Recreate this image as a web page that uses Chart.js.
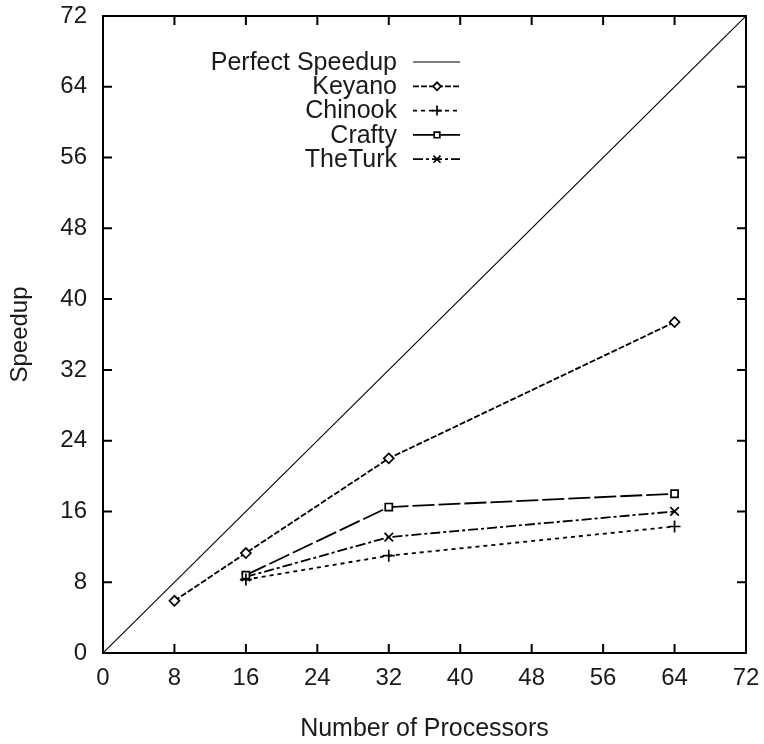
<!DOCTYPE html>
<html>
<head>
<meta charset="utf-8">
<title>Speedup</title>
<script src="https://cdn.jsdelivr.net/npm/chart.js@4.4.1/dist/chart.umd.min.js"></script>
<style>
  html, body { margin: 0; padding: 0; background: #fff; }
  canvas { display: block; }
</style>
</head>
<body>
<canvas id="grafico" width="764" height="744"></canvas>
<script>
var processadores = [8, 16, 32, 64];
var perfeitoX = [0, 72];
var perfeitoY = [0, 72];
var keyano  = [5.9, 11.3, 22.0, 37.4];
var chinook = [null, 8.3, 11.0, 14.3];
var crafty  = [null, 8.8, 16.5, 18.0];
var theTurk = [null, 8.6, 13.1, 16.0];
var ticksEixo = [0, 8, 16, 24, 32, 40, 48, 56, 64, 72];

var fonte = '"Liberation Sans", Arial, sans-serif';
var corTexto = '#1a1a1a';

function pontos(xs, ys) {
    var lista = [];
    for (var i = 0; i < xs.length; i++) {
        if (ys[i] !== null) lista.push({ x: xs[i], y: ys[i] });
    }
    return lista;
}

function serie(nome, dados, estilo, raio, tracejado, fundo) {
    return {
        label: nome,
        data: dados,
        borderColor: '#000',
        backgroundColor: fundo,
        borderWidth: 1.8,
        borderDash: tracejado,
        pointStyle: estilo,
        pointRadius: raio,
        pointBorderWidth: 1.7,
        pointBorderColor: '#000',
        pointBackgroundColor: fundo,
        tension: 0,
        fill: false
    };
}

var datasets = [
    serie('Perfect Speedup', pontos(perfeitoX, perfeitoY), false, 0, [], '#000'),
    serie('Keyano', pontos(processadores, keyano), 'rectRot', 5, [6, 2], '#fff'),
    serie('Chinook', pontos(processadores, chinook), 'cross', 6, [4, 4], '#fff'),
    serie('Crafty', pontos(processadores, crafty), 'rect', 5, [22, 4], '#fff'),
    serie('TheTurk', pontos(processadores, theTurk), 'crossRot', 6, [10, 3, 3, 3], '#fff')
];
datasets[0].borderWidth = 1.1;

// tira o espaço extra que o Chart.js reserva para os rótulos das pontas
function semFolga(s) {
    s.paddingTop = 0;
    s.paddingBottom = 0;
    s.paddingLeft = 0;
    s.paddingRight = 0;
}

// moldura com marcas para dentro, como no gnuplot
var moldura = {
    id: 'moldura',
    afterDatasetsDraw: function (chart) {
        var ctx = chart.ctx;
        var a = chart.chartArea;
        var sx = chart.scales.x, sy = chart.scales.y;
        var t = 9;
        ctx.save();
        ctx.strokeStyle = '#000';
        ctx.lineWidth = 2;
        ctx.strokeRect(a.left, a.top, a.right - a.left, a.bottom - a.top);
        ctx.beginPath();
        for (var i = 1; i < ticksEixo.length - 1; i++) {
            var px = sx.getPixelForValue(ticksEixo[i]);
            ctx.moveTo(px, a.bottom); ctx.lineTo(px, a.bottom - t);
            ctx.moveTo(px, a.top); ctx.lineTo(px, a.top + t);
            var py = sy.getPixelForValue(ticksEixo[i]);
            ctx.moveTo(a.left, py); ctx.lineTo(a.left + t, py);
            ctx.moveTo(a.right, py); ctx.lineTo(a.right - t, py);
        }
        ctx.stroke();
        ctx.restore();
    }
};

// legenda no estilo gnuplot: texto à direita, amostra da linha depois
var legenda = {
    id: 'legendaGnuplot',
    afterDraw: function (chart) {
        var ctx = chart.ctx;
        var xTexto = 397, x0 = 413, x1 = 460, xm = 437;
        var y0 = 62, passo = 24.3;
        ctx.save();
        ctx.font = '25px ' + fonte;
        ctx.textAlign = 'right';
        ctx.textBaseline = 'middle';
        chart.data.datasets.forEach(function (ds, i) {
            var y = y0 + i * passo;
            ctx.fillStyle = corTexto;
            ctx.fillText(ds.label, xTexto, y + 1);
            ctx.strokeStyle = '#000';
            ctx.lineWidth = ds.borderWidth;
            ctx.setLineDash(ds.borderDash);
            ctx.beginPath();
            ctx.moveTo(x0, y); ctx.lineTo(x1, y);
            ctx.stroke();
            ctx.setLineDash([]);
            if (ds.pointStyle) {
                ctx.fillStyle = ds.pointBackgroundColor;
                ctx.lineWidth = ds.pointBorderWidth;
                Chart.helpers.drawPoint(ctx, {
                    pointStyle: ds.pointStyle,
                    radius: ds.pointRadius - 1,
                    rotation: 0,
                    borderWidth: ds.pointBorderWidth
                }, xm, y);
            }
        });
        ctx.restore();
    }
};

new Chart(document.getElementById('grafico'), {
    type: 'line',
    data: { datasets: datasets },
    plugins: [moldura, legenda],
    options: {
        responsive: false,
        animation: false,
        layout: { padding: { left: 0, right: 18, top: 16, bottom: 0 } },
        plugins: {
            legend: { display: false },
            tooltip: { enabled: false }
        },
        scales: {
            x: {
                type: 'linear',
                min: 0,
                max: 72,
                afterBuildTicks: function (s) {
                    s.ticks = ticksEixo.map(function (v) { return { value: v }; });
                },
                afterFit: function (s) { s.height = 91; semFolga(s); },
                grid: { display: false, drawTicks: false },
                border: { display: false },
                ticks: {
                    padding: 11,
                    color: corTexto,
                    maxRotation: 0,
                    font: { family: fonte, size: 24 }
                },
                title: {
                    display: true,
                    text: 'Number of Processors',
                    color: corTexto,
                    padding: { top: 0, bottom: 0 },
                    font: { family: fonte, size: 25 }
                }
            },
            y: {
                type: 'linear',
                min: 0,
                max: 72,
                afterBuildTicks: function (s) {
                    s.ticks = ticksEixo.map(function (v) { return { value: v }; });
                },
                afterFit: function (s) { s.width = 103; semFolga(s); },
                grid: { display: false, drawTicks: false },
                border: { display: false },
                ticks: {
                    padding: 16,
                    color: corTexto,
                    font: { family: fonte, size: 24 }
                },
                title: {
                    display: true,
                    text: 'Speedup',
                    color: corTexto,
                    padding: { top: 6, bottom: 0 },
                    font: { family: fonte, size: 24 }
                }
            }
        }
    }
});
</script>
</body>
</html>
